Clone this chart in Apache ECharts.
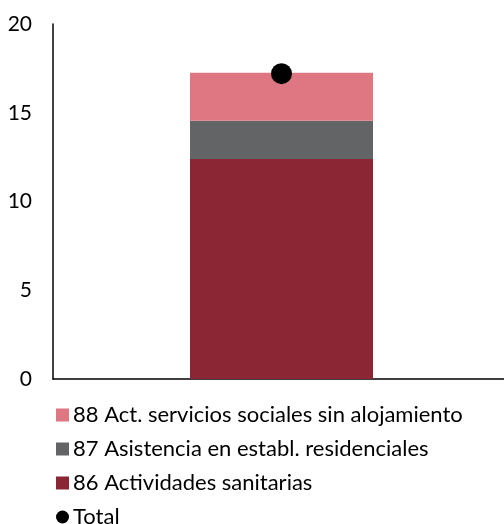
<!DOCTYPE html>
<html><head><meta charset="utf-8">
<script src="https://cdn.jsdelivr.net/npm/echarts@6/dist/echarts.min.js"></script>
<style>html,body{margin:0;padding:0;background:#fff}#c{width:504px;height:524px}</style>
</head><body><div id="c"></div>
<script>
const categories = ['2023'];
const s86 = [12.4];
const s87 = [2.15];
const s88 = [2.7];
const total = [17.2];
const names = ['86 Actividades sanitarias', '87 Asistencia en establ. residenciales', '88 Act. servicios sociales sin alojamiento', 'Total'];
const yTicks = [0, 5, 10, 15, 20];

const font = 'Lato, "DejaVu Sans", sans-serif';
const chart = echarts.init(document.getElementById('c'), null, {renderer: 'canvas'});
chart.setOption({
  animation: false,
  grid: {left: 53, width: 457, top: 24, bottom: 145, containLabel: false, outerBoundsMode: 'none'},
  xAxis: {
    type: 'category', data: categories,
    axisLine: {lineStyle: {color: '#000', width: 1.5}},
    axisTick: {show: false}, axisLabel: {show: false}
  },
  yAxis: {
    type: 'value', min: yTicks[0], max: yTicks[yTicks.length - 1], interval: 5,
    axisLine: {show: true, lineStyle: {color: '#000', width: 1.5}},
    axisTick: {show: false}, splitLine: {show: false},
    axisLabel: {color: '#000', fontSize: 21, fontFamily: font, margin: 21}
  },
  legend: {
    orient: 'vertical', left: 56, top: 404, padding: 0, height: 130,
    itemWidth: 13, itemHeight: 13, itemGap: 12,
    textStyle: {fontSize: 22, fontFamily: font, color: '#000', lineHeight: 21, padding: [0, 0, 0, -1]},
    data: [
      {name: names[2], icon: 'rect'},
      {name: names[1], icon: 'rect'},
      {name: names[0], icon: 'rect'},
      {name: names[3], icon: 'circle'}
    ]
  },
  series: [
    {name: names[0], type: 'bar', stack: 'a', data: s86, barWidth: 183, itemStyle: {color: '#8B2634'}},
    {name: names[1], type: 'bar', stack: 'a', data: s87, itemStyle: {color: '#636466'}},
    {name: names[2], type: 'bar', stack: 'a', data: s88, itemStyle: {color: '#DF7782'}},
    {name: names[3], type: 'scatter', data: total, symbol: 'circle', symbolSize: 21, itemStyle: {color: '#000', opacity: 1}, z: 5}
  ]
});
</script></body></html>
